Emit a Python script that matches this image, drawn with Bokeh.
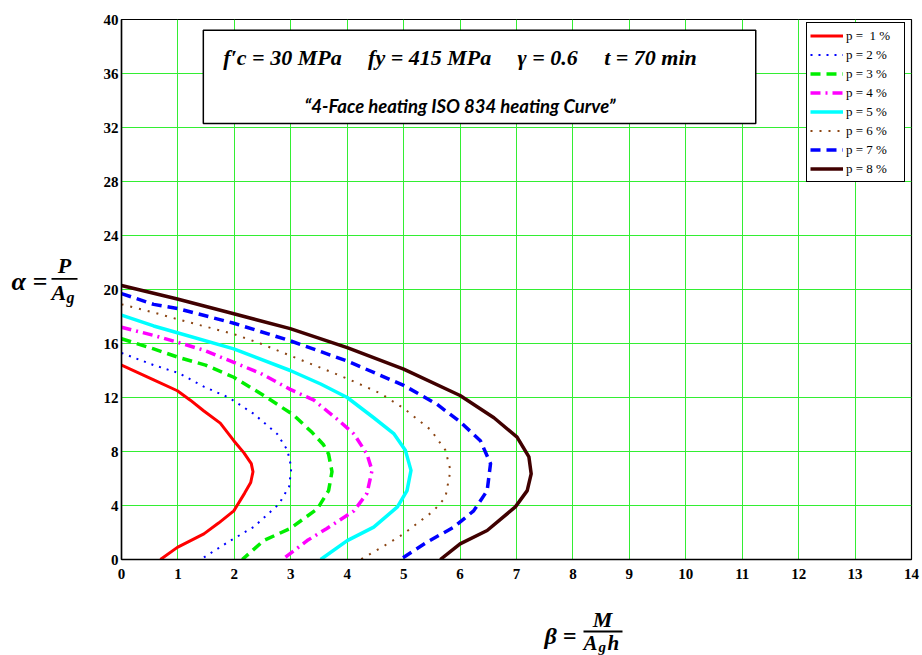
from bokeh.plotting import figure
from bokeh.models import (Label, BoxAnnotation, Legend, LegendItem, Range1d, FixedTicker)
from bokeh.layouts import column, row
from bokeh.embed import file_html
from bokeh.resources import INLINE

# ---------------- data ----------------
x_ticks = list(range(0, 15))
y_ticks = list(range(0, 41, 4))

beta_p1 = [0.0, 0.57, 0.99, 1.22, 1.46, 1.75, 1.99, 2.17, 2.30, 2.33, 2.29, 2.18, 1.99, 1.72, 1.46, 0.99, 0.69]
alpha_p1 = [14.4, 13.3, 12.5, 11.8, 11.0, 10.1, 8.8, 7.9, 7.1, 6.5, 5.7, 4.9, 3.6, 2.7, 1.9, 0.9, 0.0]

beta_p2 = [0.0, 0.57, 1.02, 1.46, 1.90, 2.34, 2.76, 2.94, 3.01, 2.97, 2.79, 2.34, 1.93, 1.40]
alpha_p2 = [15.3, 14.4, 13.8, 12.8, 12.0, 10.8, 9.3, 8.1, 6.8, 5.4, 4.1, 2.4, 1.4, 0.0]

beta_p3 = [0.0, 0.57, 0.99, 1.49, 1.99, 2.52, 3.05, 3.38, 3.58, 3.67, 3.73, 3.67, 3.47, 2.99, 2.52, 2.14]
alpha_p3 = [16.35, 15.6, 15.0, 14.4, 13.5, 12.15, 10.7, 9.4, 8.5, 7.8, 6.5, 5.1, 3.75, 2.3, 1.4, 0.0]

beta_p4 = [0.0, 0.57, 0.99, 1.46, 1.99, 2.46, 2.99, 3.41, 3.82, 4.12, 4.35, 4.44, 4.35, 4.12, 3.64, 3.29, 2.85]
alpha_p4 = [17.2, 16.6, 16.1, 15.5, 14.6, 13.8, 12.6, 11.8, 10.4, 9.3, 7.8, 6.6, 4.9, 3.6, 2.3, 1.4, 0.0]

beta_p5 = [0.0, 0.57, 0.99, 1.99, 2.99, 3.53, 4.0, 4.47, 4.83, 5.03, 5.13, 5.06, 4.89, 4.47, 4.0, 3.53]
alpha_p5 = [18.1, 17.3, 16.8, 15.6, 14.0, 13.0, 12.0, 10.5, 9.3, 8.1, 6.6, 5.1, 3.9, 2.4, 1.4, 0.0]

beta_p6 = [0.0, 0.57, 0.99, 1.99, 2.46, 2.99, 3.53, 4.0, 4.59, 5.0, 5.48, 5.74, 5.83, 5.74, 5.53, 5.0, 4.65, 4.24]
alpha_p6 = [18.9, 18.3, 17.8, 16.7, 16.0, 15.1, 14.2, 13.4, 12.3, 11.2, 9.6, 8.1, 6.6, 4.6, 3.6, 1.9, 1.0, 0.0]

beta_p7 = [0.0, 0.57, 0.99, 1.99, 2.99, 4.0, 5.0, 5.59, 6.0, 6.36, 6.54, 6.48, 6.24, 5.89, 5.42, 4.94]
alpha_p7 = [19.7, 18.9, 18.6, 17.5, 16.2, 14.7, 12.9, 11.5, 10.2, 8.8, 7.1, 5.1, 3.6, 2.4, 1.3, 0.0]

beta_p8 = [0.0, 0.99, 1.99, 2.99, 4.0, 5.0, 6.0, 6.6, 7.01, 7.22, 7.26, 7.19, 6.98, 6.48, 6.0, 5.65]
alpha_p8 = [20.3, 19.3, 18.2, 17.1, 15.7, 14.1, 12.15, 10.5, 9.06, 7.6, 6.35, 5.1, 3.9, 2.15, 1.16, 0.0]

legend_labels = ["p =  1 %", "p = 2 %", "p = 3 %", "p = 4 %",
                 "p = 5 %", "p = 6 %", "p = 7 %", "p = 8 %"]

GAP = "\u2003\u2009"
title_line1 = ("f\u2032c = 30 MPa" + GAP + "fy = 415 MPa" + GAP +
               "\u03b3 = 0.6" + GAP + "t = 70 min")
title_line2 = "\u201c4-Face heating ISO 834 heating Curve\u201d"

# ---------------- layout geometry ----------------
W, H = 922, 655
LEFT_W = 98           # width of the y-label strip
MAIN_H = 589          # height of the main figure
BOT_H = H - MAIN_H    # height of the x-label strip


def blank(width, height):
    f = figure(width=width, height=height, min_border=0, output_backend="svg",
               toolbar_location=None, x_axis_location=None, y_axis_location=None,
               x_range=Range1d(0, width), y_range=Range1d(0, height))
    f.grid.visible = False
    f.outline_line_color = None
    f.background_fill_color = "white"
    f.border_fill_color = "white"
    return f


def lab(f, text, x, y, size, font="Liberation Serif", style="bold italic",
        align="left", baseline="middle"):
    f.add_layout(Label(x=x, y=f.height - y, text=text, text_font=font,
                       text_font_style=style, text_font_size=size,
                       text_align=align, text_baseline=baseline, text_color="black"))


def bar(f, x0, x1, y, h=2):
    f.add_layout(BoxAnnotation(left=x0, right=x1, bottom=f.height - y - h / 2,
                               top=f.height - y + h / 2, fill_color="black",
                               fill_alpha=1, line_alpha=0))


# ---------------- main figure ----------------
p = figure(width=W - LEFT_W, height=MAIN_H, frame_width=790, frame_height=540,
           min_border_left=121 - LEFT_W, min_border_right=11, min_border_top=19,
           min_border_bottom=MAIN_H - 19 - 540, output_backend="svg",
           toolbar_location=None, x_range=Range1d(0, 14), y_range=Range1d(0, 40))
p.background_fill_color = "white"
p.border_fill_color = "white"
p.outline_line_color = "black"
p.outline_line_width = 1.2

for ax, ticks in ((p.xaxis[0], x_ticks), (p.yaxis[0], y_ticks)):
    ax.ticker = FixedTicker(ticks=ticks)
    ax.major_tick_out = 0
    ax.major_tick_in = 0
    ax.minor_tick_out = 0
    ax.minor_tick_in = 0
    ax.axis_line_color = "black"
    ax.axis_line_width = 1.5
    ax.major_label_text_font = "Liberation Serif"
    ax.major_label_text_font_style = "bold"
    ax.major_label_text_font_size = "15px"
    ax.major_label_text_color = "black"
p.xaxis.major_label_standoff = 9
p.yaxis.major_label_standoff = 3

p.grid.grid_line_color = "#33ee33"
p.grid.grid_line_width = 1

styles = [
    dict(color="red", line_width=3, line_dash="solid"),
    dict(color="blue", line_width=2, line_dash="2 6"),
    dict(color="#00ee00", line_width=3.5, line_dash="10 6"),
    dict(color="magenta", line_width=3.5, line_dash="10 5 2 5"),
    dict(color="cyan", line_width=3.5, line_dash="solid"),
    dict(color="#8b4513", line_width=2, line_dash="2 7"),
    dict(color="blue", line_width=3.5, line_dash="10 6"),
    dict(color="#400000", line_width=3.5, line_dash="solid"),
]
series = [(beta_p1, alpha_p1), (beta_p2, alpha_p2), (beta_p3, alpha_p3), (beta_p4, alpha_p4),
          (beta_p5, alpha_p5), (beta_p6, alpha_p6), (beta_p7, alpha_p7), (beta_p8, alpha_p8)]

items = []
for (bx, ay), st, lbl in zip(series, styles, legend_labels):
    r = p.line(bx, ay, line_color=st["color"], line_width=st["line_width"],
               line_dash=st["line_dash"], line_join="round")
    items.append(LegendItem(label=lbl, renderers=[r]))

legend = Legend(items=items, location=(685, 377), margin=0, padding=3, spacing=0,
                glyph_width=33, glyph_height=19, label_height=19, label_width=55,
                label_standoff=3, label_text_font="Liberation Serif",
                label_text_font_size="13px", label_text_color="black",
                border_line_color="black", border_line_width=1, border_line_alpha=1,
                background_fill_color="white", background_fill_alpha=1)
p.add_layout(legend)

# title box
p.add_layout(BoxAnnotation(left=1.45, right=11.24, bottom=32.3, top=39.2,
                           fill_color="white", fill_alpha=1,
                           line_color="black", line_alpha=1, line_width=1.5))
for txt, ypos, size, font in ((title_line1, 37.2, "22px", "Liberation Serif"),
                              (title_line2, 33.6, "18.5px", "Lato")):
    p.add_layout(Label(x=6.0, y=ypos, text=txt, text_font=font,
                       text_font_style="bold italic", text_font_size=size,
                       text_align="center", text_baseline="middle", text_color="black"))

# ---------------- y label strip: alpha = P / A_g ----------------
left = blank(LEFT_W, MAIN_H)
lab(left, "\u03b1 =", 11, 286, "26px")
lab(left, "P", 64, 268, "22px", align="center")
bar(left, 51, 77, 283)
lab(left, "A", 51, 298, "22px")
lab(left, "g", 66, 303, "16px")

# ---------------- x label strip: beta = M / (A_g h) ----------------
bottom = blank(W, BOT_H)
y0 = MAIN_H
lab(bottom, "\u03b2 =", 544, 635 - y0, "24px")
lab(bottom, "M", 602, 619 - y0, "22px", align="center")
bar(bottom, 583, 622, 631 - y0)
lab(bottom, "A", 583, 642 - y0, "21px")
lab(bottom, "g", 598, 646 - y0, "15px")
lab(bottom, "h", 607, 642 - y0, "21px")

layout = column(row(left, p, spacing=0), bottom, spacing=0)
open("out.html", "w").write(file_html(layout, INLINE))
